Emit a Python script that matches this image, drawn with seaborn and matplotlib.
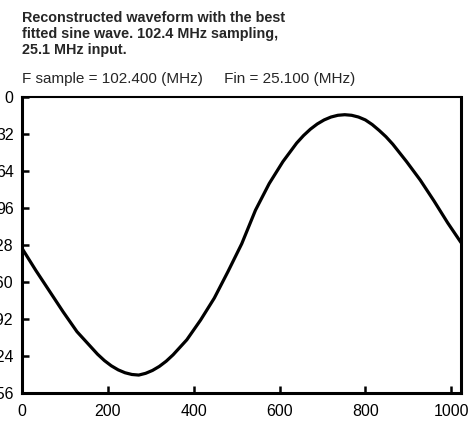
import numpy as np
import matplotlib
matplotlib.use("Agg")
import matplotlib.pyplot as plt
import seaborn as sns

# sample index and reconstructed code values
samples = [0, 32, 64, 96, 128, 160, 176, 192, 208, 224, 240, 256, 272, 288, 304,
           320, 336, 352, 384, 416, 448, 480, 512, 544, 576, 608, 640, 656, 672,
           688, 704, 720, 736, 752, 768, 784, 800, 816, 832, 848, 864, 896, 928,
           960, 992, 1023]
codes = [131, 150, 168, 186, 203, 216, 222.5, 228, 232.5, 236, 238.5, 240, 240.5,
         239, 236.5, 233, 228.5, 223, 210, 193, 174, 151, 127, 98, 75, 56, 40,
         33.5, 28, 23.5, 20, 17.5, 16, 15.5, 16, 17.5, 20, 24, 29, 34.5, 41, 56,
         72, 90, 109, 126]

x_ticks = [0, 200, 400, 600, 800, 1000]
y_ticks = [0, 32, 64, 96, 128, 160, 192, 224, 256]

title = "Reconstructed waveform with the best\nfitted sine wave. 102.4 MHz sampling,\n25.1 MHz input."
subtitle = "F sample = 102.400 (MHz)     Fin = 25.100 (MHz)"

sns.set_theme(style="ticks")
plt.rcParams["font.family"] = ["Liberation Sans", "DejaVu Sans"]

fig = plt.figure(figsize=(4.69, 4.25), dpi=100)
ax = fig.add_axes([0.047, 0.0753, 0.936, 0.697])

sns.lineplot(x=samples, y=codes, ax=ax, color="black", linewidth=2.3)

ax.set_xlim(0, 1023)
ax.set_ylim(256, 0)
ax.set_xticks(x_ticks)
ax.set_yticks(y_ticks)
ax.tick_params(axis="both", direction="in", length=5, width=1.8, colors="black",
               labelsize=11.5)
ax.tick_params(axis="y", pad=6)
ax.tick_params(axis="x", pad=8)
ax.set_xlabel("")
ax.set_ylabel("")

for side in ["left", "right", "top", "bottom"]:
    ax.spines[side].set_visible(True)
    ax.spines[side].set_color("black")
    ax.spines[side].set_linewidth(2.2)
ax.spines["top"].set_linewidth(1.5)

fig.text(0.047, 0.975, title, fontsize=10.4, fontweight="bold", va="top", ha="left",
         linespacing=1.18)
fig.text(0.047, 0.814, subtitle, fontsize=11, va="center", ha="left")

fig.savefig("out.png", dpi=100)
